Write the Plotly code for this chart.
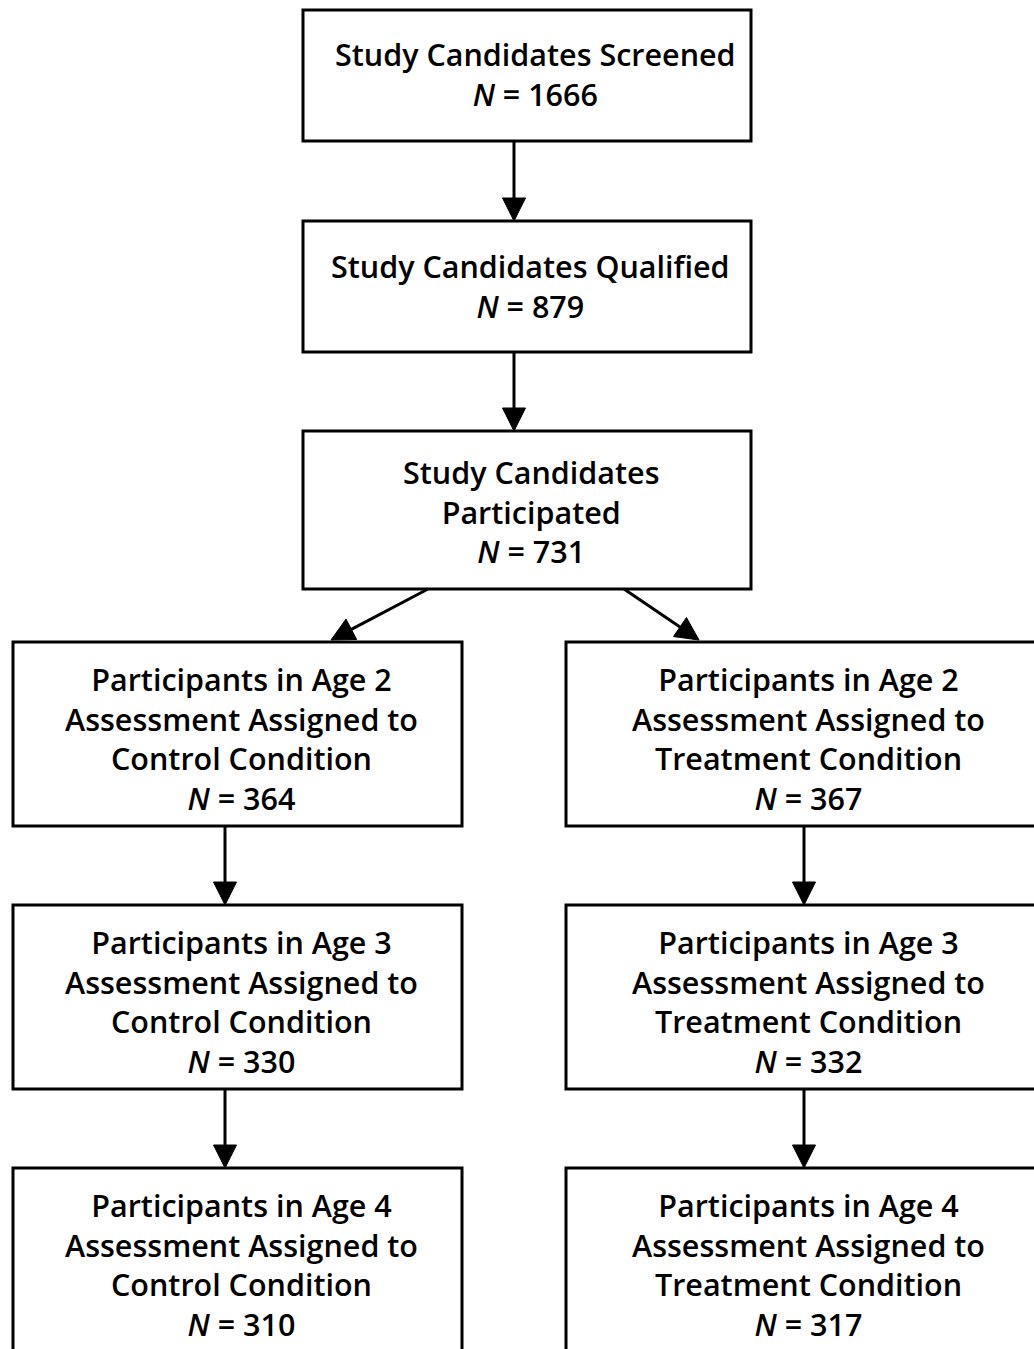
import math
import plotly.graph_objects as go

# ---- data ----
top_labels = ["Study Candidates Screened", "Study Candidates Qualified", "Study Candidates<br>Participated"]
top_n = [1666, 879, 731]
ages = [2, 3, 4]
control_n = [364, 330, 310]
treatment_n = [367, 332, 317]
conditions = ["Control", "Treatment"]

W, H = 1034, 1349
FONT = "Open Sans"
FS = 30.5
LW = 3

fig = go.Figure()

def box(x0, y0, x1, y1):
    fig.add_shape(type="rect", x0=x0, y0=y0, x1=x1, y1=y1,
                  line=dict(color="black", width=LW), fillcolor="white", layer="below")

def text(x, y, s):
    fig.add_annotation(x=x, y=y, text=s, showarrow=False, xanchor="center", yanchor="middle",
                       align="center", font=dict(family=FONT, size=FS, color="black", weight=600))

def arrow(x0, y0, x1, y1, head=23, half=11.5):
    dx, dy = x1 - x0, y1 - y0
    L = math.hypot(dx, dy)
    ux, uy = dx / L, dy / L
    bx, by = x1 - ux * head, y1 - uy * head
    fig.add_shape(type="line", x0=x0, y0=y0, x1=bx, y1=by, line=dict(color="black", width=LW))
    px, py = -uy, ux
    path = (f"M {x1},{y1} L {bx + px*half},{by + py*half} "
            f"L {bx - px*half},{by - py*half} Z")
    fig.add_shape(type="path", path=path, fillcolor="black", line=dict(color="black", width=1))

# top boxes
top_boxes = [(303, 10, 751, 141), (303, 221, 751, 352), (303, 431, 751, 589)]
top_text_x = [535, 530, 531]
top_text_dy = [-2, -1, 1]
for (x0, y0, x1, y1), lab, n, tx, dy in zip(top_boxes, top_labels, top_n, top_text_x, top_text_dy):
    box(x0, y0, x1, y1)
    text(tx, (y0 + y1) / 2 + dy, f"{lab}<br><i>N</i> = {n}")

arrow(514, 141, 514, 221)
arrow(514, 352, 514, 431)
arrow(428, 589, 331, 640)
arrow(624, 589, 699, 640)

# columns
rows_y = [(642, 826), (905, 1089), (1168, 1400)]
cols = [(13, 462, 241, 225, control_n), (566, 1060, 808, 804, treatment_n)]
for cond, (x0, x1, tx, ax, ns) in zip(conditions, cols):
    for i, (age, n) in enumerate(zip(ages, ns)):
        y0, y1 = rows_y[i]
        box(x0, y0, x1, y1)
        text(tx, y0 + 96, f"Participants in Age {age}<br>Assessment Assigned to<br>{cond} Condition<br><i>N</i> = {n}")
        if i < len(ages) - 1:
            arrow(ax, y1, ax, rows_y[i + 1][0])

fig.update_xaxes(range=[0, W], visible=False, fixedrange=True)
fig.update_yaxes(range=[H, 0], visible=False, fixedrange=True)
fig.update_layout(width=W, height=H, margin=dict(l=0, r=0, t=0, b=0),
                  plot_bgcolor="white", paper_bgcolor="white", showlegend=False)
fig.write_html("out.html", config={"displayModeBar": False},
               post_script="document.body.style.margin='0';document.body.style.overflow='hidden';")
